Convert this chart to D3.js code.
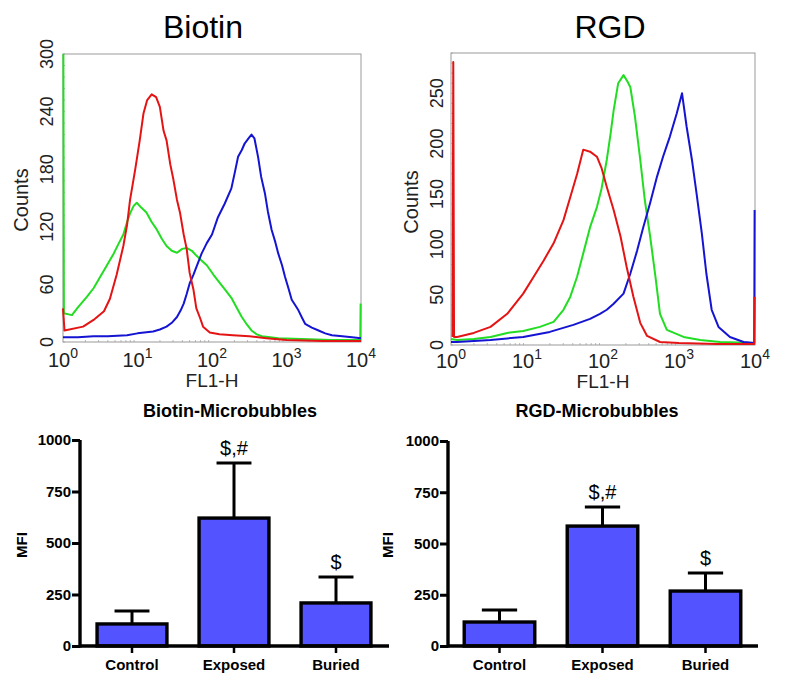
<!DOCTYPE html>
<html><head><meta charset="utf-8">
<script src="https://cdn.jsdelivr.net/npm/d3@7"></script>
<style>
body{margin:0;background:#fff}
svg{display:block}
text{font-family:"Liberation Sans",Arial,Helvetica,sans-serif}
</style>
</head><body>
<svg id="chart" width="800" height="688"></svg>
<script>
// ---------- data ----------
const histTitles = ["Biotin", "RGD"];
const decadeTicks = [0, 1, 2, 3, 4];           // log10(FL1-H)
const biotinYTicks = [0, 60, 120, 180, 240, 300];
const rgdYTicks = [0, 50, 100, 150, 200, 250];

// [log10(FL1-H), counts]
const biotinRed = [[0,35],[0.02,12],[0.27,16],[0.41,23],[0.55,32],[0.63,45],[0.72,70],[0.81,100],[0.86,122],[0.90,148],[0.97,180],[1.03,210],[1.08,238],[1.13,252],[1.19,258],[1.25,255],[1.30,245],[1.35,220],[1.39,210],[1.44,185],[1.48,170],[1.53,148],[1.57,135],[1.62,112],[1.66,97],[1.70,72],[1.75,55],[1.79,35],[1.84,25],[1.88,16],[1.97,10],[2.10,8],[2.28,7],[2.50,6],[2.73,4],[3.00,2],[3.50,1],[4.00,1]];
const biotinGreen = [[0.005,300],[0.012,30],[0.12,28],[0.20,36],[0.32,47],[0.41,56],[0.50,68],[0.59,80],[0.68,92],[0.75,103],[0.81,112],[0.86,125],[0.90,134],[0.95,142],[0.99,145],[1.05,140],[1.12,135],[1.19,125],[1.26,117],[1.33,107],[1.39,100],[1.46,95],[1.53,93],[1.60,97],[1.66,98],[1.73,95],[1.79,90],[1.86,85],[1.93,80],[2.02,70],[2.08,64],[2.17,55],[2.26,46],[2.33,36],[2.40,26],[2.47,18],[2.53,12],[2.60,8],[2.67,6],[2.89,4],[3.20,3],[3.60,2],[3.99,2],[3.995,40]];
const biotinBlue = [[0,5],[0.20,5],[0.41,6],[0.60,6],[0.86,7],[1.00,9],[1.21,11],[1.30,13],[1.39,16],[1.46,20],[1.53,26],[1.58,33],[1.62,40],[1.66,50],[1.70,61],[1.75,70],[1.79,78],[1.86,92],[1.93,103],[2.00,112],[2.08,130],[2.17,144],[2.26,160],[2.31,178],[2.35,193],[2.40,200],[2.44,207],[2.49,212],[2.53,216],[2.57,212],[2.62,192],[2.66,172],[2.71,155],[2.75,136],[2.80,117],[2.85,104],[2.89,92],[2.94,80],[2.98,68],[3.03,55],[3.07,44],[3.12,38],[3.16,33],[3.21,25],[3.25,19],[3.34,15],[3.43,12],[3.52,9],[3.61,7],[3.75,6],[3.88,5],[4.00,4]];

const rgdRed = [[0.02,8],[0.03,281],[0.04,8],[0.08,8],[0.30,12],[0.52,18],[0.74,31],[0.95,51],[1.09,68],[1.22,84],[1.35,101],[1.48,124],[1.57,147],[1.66,170],[1.74,194],[1.83,192],[1.92,187],[1.98,176],[2.05,157],[2.14,134],[2.23,108],[2.31,78],[2.40,48],[2.49,22],[2.58,9],[2.75,3],[3.00,2],[3.50,1],[3.99,1],[3.995,48]];
const rgdGreen = [[0,6],[0.08,5],[0.30,6],[0.52,8],[0.74,12],[0.95,14],[1.17,18],[1.35,23],[1.48,35],[1.57,48],[1.66,68],[1.74,91],[1.83,117],[1.92,137],[1.98,155],[2.05,184],[2.10,210],[2.14,233],[2.20,260],[2.27,268],[2.32,262],[2.36,256],[2.42,227],[2.49,184],[2.55,144],[2.62,108],[2.69,68],[2.75,31],[2.84,15],[3.06,8],[3.28,5],[3.54,3],[4.00,2]];
const rgdBlue = [[0,3],[0.08,3],[0.52,5],[0.95,8],[1.30,13],[1.61,20],[1.83,26],[1.96,31],[2.05,35],[2.14,41],[2.27,51],[2.36,71],[2.45,94],[2.53,117],[2.62,141],[2.71,167],[2.79,187],[2.88,207],[2.97,230],[3.04,250],[3.10,217],[3.17,184],[3.23,151],[3.30,111],[3.36,71],[3.43,35],[3.52,18],[3.67,8],[3.85,3],[3.99,2],[3.995,134]];

const barTitles = ["Biotin-Microbubbles", "RGD-Microbubbles"];
const barCategories = ["Control", "Exposed", "Buried"];
const mfiTicks = [0, 250, 500, 750, 1000];
const biotinMFI = [107, 621, 209];
const biotinSD  = [63, 267, 126];
const biotinMarks = ["", "$,#", "$"];
const rgdMFI = [117, 585, 268];
const rgdSD  = [59, 93, 88];
const rgdMarks = ["", "$,#", "$"];

// ---------- drawing ----------
const svg = d3.select("#chart");
const colors = {red: "#e41414", green: "#22dd22", blue: "#1414d2"};

function drawHist(cfg) {
  const x = d3.scaleLinear().domain([0, 4]).range([cfg.x0, cfg.x1]);
  const y = d3.scaleLinear().domain([0, cfg.yMax]).range([cfg.y1, cfg.y0]);
  const g = svg.append("g");
  const clipId = "clip" + cfg.id;
  g.append("clipPath").attr("id", clipId).append("rect")
    .attr("x", cfg.x0 - 1).attr("y", cfg.y0).attr("width", cfg.x1 - cfg.x0 + 2).attr("height", cfg.y1 - cfg.y0);

  // title
  g.append("text").attr("x", cfg.titleX).attr("y", 38).attr("text-anchor", "middle")
    .attr("font-size", 32).attr("fill", "#000").text(cfg.title);

  // minor ticks along left and bottom edges
  const minor = [];
  for (let d = 0; d < 4; d++) for (let k = 2; k <= 9; k++) minor.push(d + Math.log10(k));
  g.selectAll("line.mx").data(minor).join("line")
    .attr("x1", d => x(d)).attr("x2", d => x(d)).attr("y1", cfg.y1).attr("y2", cfg.y1 - 2)
    .attr("stroke", "#aaa").attr("stroke-width", 0.8);
  g.selectAll("line.My").data(d3.range(0, cfg.yMax + 1, cfg.yTicks[1] / 5)).join("line")
    .attr("x1", cfg.x0).attr("x2", cfg.x0 + 2).attr("y1", d => y(d)).attr("y2", d => y(d))
    .attr("stroke", "#aaa").attr("stroke-width", 0.8);

  // frame
  g.append("rect").attr("x", cfg.x0).attr("y", cfg.y0)
    .attr("width", cfg.x1 - cfg.x0).attr("height", cfg.y1 - cfg.y0)
    .attr("fill", "none").attr("stroke", "#999").attr("stroke-width", 1);

  const line = d3.line().x(d => x(d[0])).y(d => y(d[1]));
  const lines = g.append("g").attr("clip-path", `url(#${clipId})`);
  cfg.series.forEach(s => {
    lines.append("path").datum(s.data).attr("d", line)
      .attr("fill", "none").attr("stroke", s.color).attr("stroke-width", 2)
      .attr("stroke-linejoin", "round");
  });

  // y tick labels (rotated)
  g.selectAll("text.yt").data(cfg.yTicks).join("text")
    .attr("transform", d => `translate(${cfg.yLabelX},${y(d)}) rotate(-90)`)
    .attr("text-anchor", "middle").attr("font-size", 18).attr("fill", "#222")
    .text(d => d);
  g.append("text").attr("transform", `translate(${cfg.countsX},${cfg.countsY}) rotate(-90)`)
    .attr("text-anchor", "middle").attr("font-size", 20).attr("fill", "#222").text("Counts");

  // x tick labels 10^k
  const xt = g.selectAll("text.xt").data(decadeTicks).join("text")
    .attr("x", d => x(d)).attr("y", cfg.xLabelY).attr("text-anchor", "middle")
    .attr("font-size", 20).attr("fill", "#222");
  xt.append("tspan").text("10");
  xt.append("tspan").attr("dy", -9).attr("font-size", 14).text(d => d);
  g.append("text").attr("x", cfg.flX).attr("y", cfg.flY).attr("text-anchor", "middle")
    .attr("font-size", 19).attr("fill", "#222").text("FL1-H");
}

drawHist({
  id: "a", title: histTitles[0], titleX: 203,
  x0: 63, x1: 361, y0: 54, y1: 342, yMax: 300, yTicks: biotinYTicks,
  yLabelX: 53, countsX: 28, countsY: 200, xLabelY: 367, flX: 212, flY: 387,
  series: [
    {data: biotinGreen, color: colors.green},
    {data: biotinBlue, color: colors.blue},
    {data: biotinRed, color: colors.red}
  ]
});
drawHist({
  id: "b", title: histTitles[1], titleX: 610,
  x0: 451, x1: 755, y0: 53, y1: 345, yMax: 290, yTicks: rgdYTicks,
  yLabelX: 443, countsX: 418, countsY: 202, xLabelY: 368, flX: 603, flY: 388,
  series: [
    {data: rgdGreen, color: colors.green},
    {data: rgdBlue, color: colors.blue},
    {data: rgdRed, color: colors.red}
  ]
});

function drawBars(cfg) {
  const g = svg.append("g");
  const x = d3.scaleBand().domain(barCategories).range([cfg.xStart, cfg.xEnd])
    .paddingInner(0.315).paddingOuter(0.1575);
  const y = d3.scaleLinear().domain([0, 1000]).range([cfg.yBase, cfg.yTop]);
  const bold = "bold";

  g.append("text").attr("x", cfg.titleX).attr("y", 417).attr("text-anchor", "middle")
    .attr("font-size", 18).attr("font-weight", bold).text(cfg.title);

  // error bars
  const eb = g.selectAll("g.eb").data(barCategories).join("g");
  eb.append("line")
    .attr("x1", d => x(d) + x.bandwidth() / 2).attr("x2", d => x(d) + x.bandwidth() / 2)
    .attr("y1", (d, i) => y(cfg.values[i])).attr("y2", (d, i) => y(cfg.values[i] + cfg.sd[i]))
    .attr("stroke", "#000").attr("stroke-width", 3);
  eb.append("line")
    .attr("x1", d => x(d) + x.bandwidth() / 4).attr("x2", d => x(d) + x.bandwidth() * 3 / 4)
    .attr("y1", (d, i) => y(cfg.values[i] + cfg.sd[i])).attr("y2", (d, i) => y(cfg.values[i] + cfg.sd[i]))
    .attr("stroke", "#000").attr("stroke-width", 3);

  // bars
  g.selectAll("rect.bar").data(barCategories).join("rect")
    .attr("x", d => x(d)).attr("width", x.bandwidth())
    .attr("y", (d, i) => y(cfg.values[i])).attr("height", (d, i) => y(0) - y(cfg.values[i]))
    .attr("fill", "#5353ff").attr("stroke", "#000").attr("stroke-width", 3.4);

  // significance marks
  g.selectAll("text.mk").data(barCategories).join("text")
    .attr("x", d => x(d) + x.bandwidth() / 2)
    .attr("y", (d, i) => y(cfg.values[i] + cfg.sd[i]) - 8)
    .attr("text-anchor", "middle").attr("font-size", 20).attr("fill", "#000")
    .text((d, i) => cfg.marks[i]);

  // axes
  const yAxis = d3.axisLeft(y).tickValues(mfiTicks).tickFormat(d3.format("d")).tickSize(8).tickPadding(1);
  const ya = g.append("g").attr("transform", `translate(${cfg.axisX},0)`).call(yAxis);
  ya.select(".domain").attr("stroke-width", 3.4).attr("d", `M0,${cfg.yBase + 1.5}V${cfg.yTop}`);
  ya.selectAll(".tick line").attr("stroke-width", 3);
  ya.selectAll(".tick text").attr("font-size", 15).attr("font-weight", bold)
    .attr("font-family", '"Liberation Sans",Arial,sans-serif').attr("fill", "#000");

  const xAxis = d3.axisBottom(x).tickSize(7).tickPadding(6);
  const xa = g.append("g").attr("transform", `translate(0,${cfg.yBase})`).call(xAxis);
  xa.select(".domain").attr("stroke-width", 3.4).attr("d", `M${cfg.axisX},0H${cfg.xAxisEnd}`);
  xa.selectAll(".tick line").attr("stroke-width", 2.5);
  xa.selectAll(".tick text").attr("font-size", 15).attr("font-weight", bold)
    .attr("font-family", '"Liberation Sans",Arial,sans-serif').attr("fill", "#000");

  g.append("text").attr("transform", `translate(${cfg.mfiX},545) rotate(-90)`)
    .attr("text-anchor", "middle").attr("font-size", 15).attr("font-weight", bold).text("MFI");
}

drawBars({
  title: barTitles[0], titleX: 230, values: biotinMFI, sd: biotinSD, marks: biotinMarks,
  xStart: 81, xEnd: 387, axisX: 80, xAxisEnd: 389, yBase: 646, yTop: 440, mfiX: 27
});
drawBars({
  title: barTitles[1], titleX: 597, values: rgdMFI, sd: rgdSD, marks: rgdMarks,
  xStart: 448, xEnd: 757, axisX: 448, xAxisEnd: 758, yBase: 646, yTop: 441, mfiX: 393
});
</script>
</body></html>
